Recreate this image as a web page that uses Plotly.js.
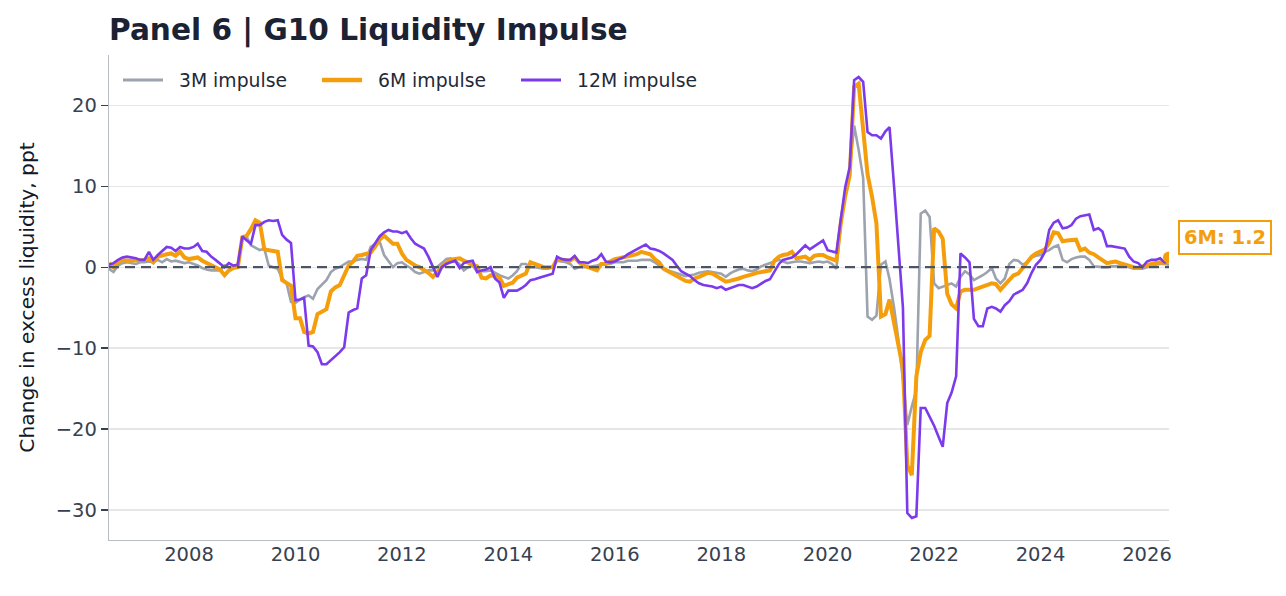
<!DOCTYPE html>
<html>
<head>
<meta charset="utf-8">
<script src="https://cdn.plot.ly/plotly-3.0.1.min.js"></script>
<style>
  html, body { margin: 0; padding: 0; background: #ffffff; }
  #chart { width: 1286px; height: 596px; }
</style>
</head>
<body>
<div id="chart"></div>
<script>
// Monthly observations, July 2006 through June 2026
const startYear = 2006;
const startMonth = 7;

// 3-month liquidity impulse (ppt), one row per 12 months
const impulse3m = [
  -0.2, -0.6, 0.2, 0.5, 0.6, 0.5, 0.4, 0.6, 0.6, 0.7, 0.6, 0.9,
  0.6, 1.0, 0.7, 0.8, 0.6, 0.5, 0.6, 0.4, 0.2, -0.1, -0.3, -0.4,
  -0.4, -0.4, 0.2, 0.0, 0.1, 0.2, 3.6, 3.7, 2.7, 2.4, 2.1, 2.3,
  0.2, 0.0, -0.2, -1.4, -2.0, -4.3, -4.4, -4.0, -3.7, -3.5, -3.9, -2.7,
  -2.2, -1.6, -0.6, -0.2, 0.0, 0.4, 0.7, 0.7, 0.9, 1.0, 0.9, 2.5,
  2.9, 3.2, 1.5, 0.7, 0.0, 0.5, 0.6, 0.2, -0.1, -0.6, -0.8, -0.6,
  -0.4, -0.4, 0.0, 0.5, 1.0, 1.1, 0.8, 0.3, -0.4, 0.0, 0.2, -0.6,
  -0.5, -0.5, -0.4, -0.7, -1.0, -1.2, -1.4, -1.0, -0.5, 0.4, 0.4, 0.0,
  0.0, -0.1, -0.2, -0.2, 0.0, 0.8, 0.7, 0.6, 0.4, -0.2, 0.0, 0.0,
  0.0, 0.1, 0.2, 0.4, 0.4, 0.4, 0.6, 0.6, 0.6, 0.8, 0.8, 0.8,
  0.9, 0.9, 0.9, 0.6, 0.2, -0.2, -0.4, -0.6, -0.8, -1.0, -1.1, -1.0,
  -0.9, -0.7, -0.6, -0.5, -0.6, -0.7, -0.8, -1.2, -0.8, -0.5, -0.3, -0.2,
  -0.4, -0.5, -0.3, 0.1, 0.3, 0.5, 0.7, 0.9, 0.7, 0.5, 0.6, 0.7,
  0.7, 0.6, 0.5, 0.6, 0.7, 0.6, 0.7, 0.4, -0.2, 5.5, 9.0, 12.0,
  17.5, 14.5, 11.0, -6.1, -6.5, -6.0, 0.3, 0.7, -1.5, -5.0, -9.0, -14.0,
  -19.5, -17.2, -15.2, 6.6, 7.0, 6.2, -2.0, -2.6, -2.4, -2.2, -2.0, -2.4,
  -1.2, -0.5, -0.9, -1.6, -1.3, -1.0, -0.6, -0.1, -1.4, -2.0, -1.4, 0.4,
  0.9, 0.8, 0.3, 0.6, 1.2, 1.4, 1.5, 1.9, 2.1, 2.5, 2.7, 0.9,
  0.6, 1.0, 1.2, 1.3, 1.3, 0.9, 0.1, 0.0, 0.0, 0.0, 0.1, 0.1,
  0.2, 0.1, 0.0, -0.2, -0.2, -0.2, 0.0, 0.2, 0.3, 0.4, 0.4, 0.3
];

// 6-month liquidity impulse (ppt)
const impulse6m = [
  0.5, 0.0, 0.6, 0.9, 0.8, 0.8, 0.9, 0.9, 0.9, 1.1, 0.6, 1.3,
  1.5, 1.6, 1.7, 1.4, 1.9, 1.2, 1.0, 1.1, 1.2, 0.8, 0.5, 0.3,
  0.0, -0.3, -1.0, -0.4, -0.1, 0.0, 3.7, 3.9, 4.7, 5.8, 5.5, 2.2,
  2.1, 2.0, 1.9, -1.6, -2.0, -2.3, -6.3, -6.3, -8.0, -8.2, -8.0, -5.8,
  -5.5, -5.2, -3.0, -2.5, -2.2, -1.0, 0.2, 0.7, 1.4, 1.5, 1.6, 1.8,
  2.5, 3.4, 3.9, 3.4, 2.9, 2.9, 1.7, 0.9, 0.5, 0.2, 0.0, -0.3,
  -0.7, -1.2, -0.5, 0.0, 0.5, 0.9, 1.0, 1.1, 0.8, 0.5, 0.3, 0.1,
  -1.3, -1.4, -1.0, -1.1, -1.3, -2.3, -2.1, -1.9, -1.3, -1.0, -0.8, 0.6,
  0.4, 0.2, 0.0, 0.0, 0.0, 1.0, 0.9, 0.8, 0.8, 1.2, 0.6, 0.2,
  0.0, -0.2, -0.4, 0.4, 0.4, 0.7, 1.0, 1.1, 1.2, 1.4, 1.5, 1.6,
  1.9, 1.8, 1.6, 1.0, 0.6, -0.2, -0.5, -0.8, -1.1, -1.5, -1.7, -1.8,
  -1.4, -1.2, -0.9, -0.7, -0.8, -1.1, -1.4, -1.8, -1.7, -1.6, -1.4, -1.2,
  -1.1, -0.9, -0.7, -0.6, -0.5, -0.4, 0.8, 1.3, 1.5, 1.6, 1.9, 1.1,
  1.2, 1.3, 0.9, 1.4, 1.5, 1.5, 1.2, 1.0, 0.8, 5.5, 8.8, 11.4,
  22.3, 22.7, 17.0, 11.5, 8.7, 5.4, -6.1, -5.8, -4.0, -7.0, -9.8, -12.5,
  -24.5, -25.7, -13.5, -10.5, -9.0, -8.5, 4.8, 4.4, 3.5, -3.3, -4.6, -5.1,
  -3.0, -2.8, -2.8, -2.8, -2.6, -2.4, -2.2, -2.0, -2.1, -2.8, -2.2, -1.6,
  -1.0, -0.8, -0.1, 0.7, 1.3, 1.7, 1.9, 2.2, 3.0, 4.3, 4.2, 3.2,
  3.3, 3.4, 3.4, 2.1, 2.3, 1.8, 1.6, 1.2, 0.8, 0.5, 0.6, 0.7,
  0.5, 0.3, 0.1, 0.0, -0.1, 0.1, 0.3, 0.4, 0.5, 0.6, 0.5, 1.2
];

// 12-month liquidity impulse (ppt)
const impulse12m = [
  0.3, 0.5, 0.9, 1.2, 1.3, 1.2, 1.1, 0.9, 0.9, 1.9, 0.9, 1.5,
  2.0, 2.5, 2.4, 2.0, 2.5, 2.3, 2.3, 2.5, 2.9, 2.0, 1.9, 1.3,
  0.9, 0.5, 0.0, 0.5, 0.2, 0.3, 3.8, 3.3, 2.9, 5.2, 5.2, 5.6,
  5.8, 5.7, 5.8, 4.0, 3.4, 3.0, -4.1, -4.0, -3.8, -9.7, -9.8, -10.5,
  -12.0, -12.0, -11.5, -11.0, -10.5, -9.9, -5.6, -5.3, -5.1, -1.4, -1.0, 2.1,
  3.0, 3.8, 4.3, 4.6, 4.4, 4.4, 4.2, 4.4, 3.6, 2.9, 2.6, 2.3,
  1.3, 0.0, -1.2, 0.0, 0.4, 0.6, 0.8, -0.1, 0.5, 0.7, 0.8, -0.6,
  -0.4, -0.3, 0.0, -1.4, -1.9, -3.8, -2.9, -2.9, -2.9, -2.6, -2.2, -1.6,
  -1.5, -1.3, -1.1, -1.0, -0.8, 1.3, 1.0, 0.9, 0.9, 1.4, 0.6, 0.6,
  0.5, 0.8, 1.0, 1.6, 0.7, 0.6, 0.7, 1.0, 1.2, 1.6, 1.9, 2.3,
  2.5, 2.8, 2.3, 2.2, 2.0, 1.7, 1.3, 0.9, 0.2, -0.5, -0.8, -1.1,
  -1.6, -2.0, -2.2, -2.3, -2.4, -2.6, -2.4, -2.8, -2.6, -2.4, -2.2, -2.2,
  -2.4, -2.6, -2.4, -2.0, -1.7, -1.5, -0.6, 0.4, 0.9, 1.1, 1.2, 1.6,
  2.1, 2.7, 2.2, 2.6, 3.0, 3.3, 2.1, 1.9, 1.8, 6.0, 9.9, 12.4,
  23.1, 23.5, 22.9, 16.7, 16.3, 16.3, 15.9, 16.8, 17.3, 10.0, 2.5, -5.0,
  -30.4, -31.0, -30.8, -17.4, -17.4, -18.5, -19.6, -21.0, -22.2, -16.8, -15.5, -13.5,
  1.7, 1.2, 0.6, -6.4, -7.3, -7.3, -5.1, -4.9, -5.1, -5.5, -4.7, -4.2,
  -3.4, -3.1, -2.8, -2.0, -0.7, 0.3, 0.9, 1.9, 4.6, 5.5, 5.8, 4.8,
  4.9, 5.2, 6.0, 6.3, 6.4, 6.5, 4.6, 4.8, 4.4, 2.6, 2.6, 2.5,
  2.4, 2.3, 1.3, 0.7, 0.5, 0.0, 0.7, 0.9, 0.9, 1.1, 0.6, 0.7
];

const seriesNames = ['3M impulse', '6M impulse', '12M impulse'];
const tickYears = ['2008', '2010', '2012', '2014', '2016', '2018', '2020', '2022', '2024', '2026'];
const yTicks = [-30, -20, -10, 0, 10, 20];

// Month-start dates matching the value arrays
const dates = impulse6m.map((_, i) => {
  const total = (startMonth - 1) + i;
  const y = startYear + Math.floor(total / 12);
  const m = (total % 12) + 1;
  return y + '-' + String(m).padStart(2, '0') + '-01';
});

const lastDate = dates[dates.length - 1];
const last6m = impulse6m[impulse6m.length - 1];

const allVals = impulse3m.concat(impulse6m, impulse12m);
const vMin = Math.min(...allVals), vMax = Math.max(...allVals);
const pad = (vMax - vMin) * 0.05;

const FONT = '"DejaVu Sans", Verdana, sans-serif';
const colors = ['#9ca3af', '#f59e0b', '#7c3aed'];
const widths = [2.6, 4, 2.6];
const seriesValues = [impulse3m, impulse6m, impulse12m];

const traces = seriesValues.map((vals, k) => ({
  x: dates, y: vals, name: seriesNames[k], type: 'scatter', mode: 'lines',
  showlegend: false, line: { color: colors[k], width: widths[k] }
}));
// end-point marker on the 6M series
traces.push({
  x: [lastDate], y: [last6m], type: 'scatter', mode: 'markers', showlegend: false,
  marker: { color: colors[1], size: 12 }, hoverinfo: 'skip'
});

// Key across the top-left of the plot: sample line + label per series
const plotW = 1286 - 109 - 117;
const plotH = 596 - 55 - 56;
const keyY = (540 - 80) / plotH;
const keyStarts = [123, 322, 521];
const keyShapes = keyStarts.map((px, k) => ({
  type: 'line', xref: 'paper', yref: 'paper',
  x0: (px - 109) / plotW, x1: (px + 40 - 109) / plotW, y0: keyY, y1: keyY,
  line: { color: colors[k], width: k === 1 ? 4.5 : 3.2 }, layer: 'above'
}));
const keyLabels = keyStarts.map((px, k) => ({
  xref: 'paper', yref: 'paper', x: (px + 54 - 109) / plotW, y: keyY,
  xanchor: 'left', yanchor: 'middle', showarrow: false,
  text: seriesNames[k], font: { family: FONT, size: 18.8, color: '#1f2937' }
}));

const layout = {
  width: 1286, height: 596,
  paper_bgcolor: '#ffffff', plot_bgcolor: '#ffffff',
  margin: { l: 109, r: 117, t: 55, b: 56 },
  font: { family: FONT, color: '#374151', size: 19 },
  title: {
    text: '<b>Panel 6 | G10 Liquidity Impulse</b>',
    x: 0, xref: 'paper', xanchor: 'left',
    y: 1 - 30 / 596, yref: 'container', yanchor: 'middle',
    font: { family: FONT, size: 29.6, color: '#1a2233' }
  },
  showlegend: false,
  xaxis: {
    type: 'date',
    range: [dates[0], lastDate],
    tickmode: 'array',
    tickvals: tickYears.map(y => y + '-01-01'),
    ticktext: tickYears,
    showgrid: false, zeroline: false,
    showline: true, linecolor: '#b8bcc4', linewidth: 1.3,
    ticks: '', ticklabelstandoff: -4,
    tickfont: { family: FONT, size: 19.5, color: '#374151' }
  },
  yaxis: {
    range: [vMin - pad, vMax + pad],
    tickmode: 'array', tickvals: yTicks,
    showgrid: true, gridcolor: '#e6e6e6', gridwidth: 1.3,
    zeroline: false,
    showline: true, linecolor: '#b8bcc4', linewidth: 1.3,
    ticks: 'outside', ticklen: 7, tickcolor: '#374151', tickwidth: 1.3,
    tickfont: { family: FONT, size: 19.5, color: '#374151' },
    title: { text: 'Change in excess liquidity, ppt', standoff: 15,
             font: { family: FONT, size: 20.2, color: '#111827' } }
  },
  shapes: [{
    type: 'line', xref: 'paper', x0: 0, x1: 1, yref: 'y', y0: 0, y1: 0,
    line: { color: '#4b5563', width: 2.2, dash: '10px,6px' }, layer: 'above'
  }].concat(keyShapes),
  annotations: [{
    x: lastDate, y: last6m, xref: 'x', yref: 'y',
    text: '<b>6M: ' + last6m.toFixed(1) + '</b>',
    showarrow: false, xanchor: 'left', yanchor: 'middle',
    xshift: 9, yshift: 20,
    font: { family: FONT, size: 19.5, color: colors[1] },
    bgcolor: '#ffffff', bordercolor: colors[1], borderwidth: 2, borderpad: 4
  }].concat(keyLabels)
};

Plotly.newPlot('chart', traces, layout, { displayModeBar: false, staticPlot: true });
</script>
</body>
</html>
